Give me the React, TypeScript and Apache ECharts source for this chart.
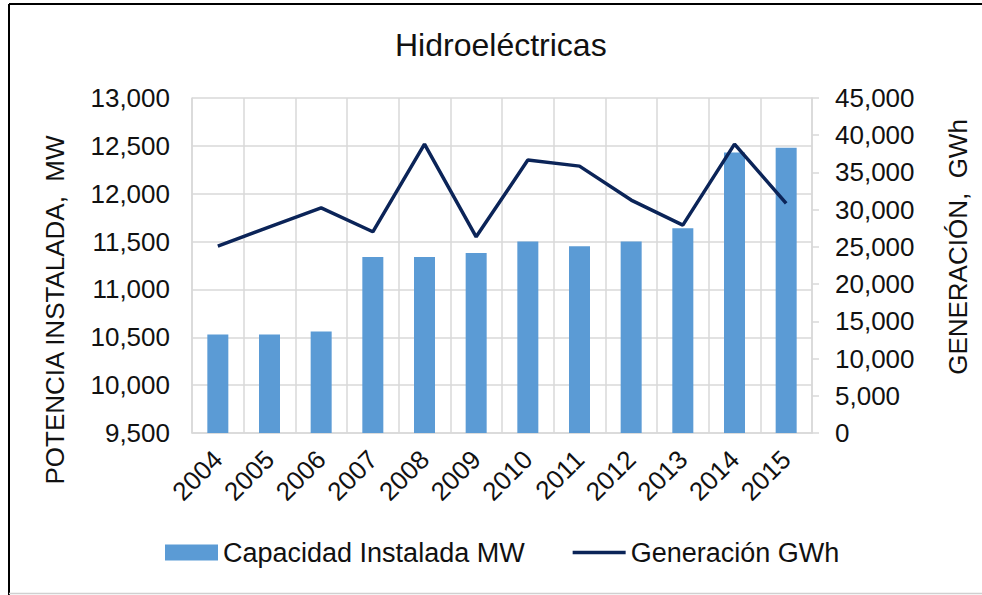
import React, { useEffect, useRef } from "react";
import * as echarts from "echarts";

const years = ["2004", "2005", "2006", "2007", "2008", "2009", "2010", "2011", "2012", "2013", "2014", "2015"];
const capacidadMW = [10530, 10530, 10560, 11340, 11340, 11380, 11500, 11450, 11500, 11640, 12430, 12480];
const generacionGWh = [25100, 27700, 30250, 27030, 38810, 26350, 36660, 35850, 31290, 27920, 38810, 30840];

const titleText = "Hidroeléctricas";
const leftAxisName = "POTENCIA INSTALADA,  MW";
const rightAxisName = "GENERACIÓN,  GWh";
const barName = "Capacidad Instalada MW";
const lineName = "Generación GWh";

const FONT = "'Liberation Sans', Arial, sans-serif";
const GRID = "#d9d9d9";
const TXT = "#111111";
const LINE = "#0b2458";

const fmt = (v: number) => v.toLocaleString("en-US");

export default function App() {
  const ref = useRef<HTMLDivElement>(null);

  useEffect(() => {
    if (!ref.current) return;
    const chart = echarts.init(ref.current, undefined, { renderer: "svg" });
    chart.setOption({
      animation: false,
      backgroundColor: "#ffffff",
      textStyle: { fontFamily: FONT, color: TXT },
      title: {
        text: titleText,
        left: 395,
        top: 29,
        padding: 0,
        textStyle: { fontFamily: FONT, fontSize: 32, fontWeight: "normal", color: TXT },
      },
      grid: { left: 192, right: 170, top: 98, bottom: 162 },
      legend: {
        left: 165,
        top: 539,
        padding: 0,
        itemGap: 48,
        itemWidth: 53,
        itemHeight: 16,
        textStyle: { fontFamily: FONT, fontSize: 27, color: TXT },
        data: [
          { name: barName, icon: "rect" },
          { name: lineName, icon: "path://M0,0H53V3.5H0Z", itemStyle: { color: LINE } },
        ],
      },
      xAxis: {
        type: "category",
        data: years,
        boundaryGap: true,
        axisLine: { show: true, lineStyle: { color: GRID, width: 1.5 } },
        axisTick: { show: false },
        splitLine: { show: true, lineStyle: { color: GRID, width: 1.5 } },
        axisLabel: {
          interval: 0,
          rotate: 45,
          margin: 22,
          fontFamily: FONT,
          fontSize: 26,
          color: TXT,
        },
      },
      yAxis: [
        {
          type: "value",
          min: 9500,
          max: 13000,
          interval: 500,
          position: "left",
          axisLine: { show: true, lineStyle: { color: GRID, width: 1.5 } },
          axisTick: { show: false },
          splitLine: { show: true, lineStyle: { color: GRID, width: 1.5 } },
          axisLabel: { margin: 22, fontFamily: FONT, fontSize: 26, color: TXT, formatter: fmt },
        },
        {
          type: "value",
          min: 0,
          max: 45000,
          interval: 5000,
          position: "right",
          axisLine: { show: true, lineStyle: { color: GRID, width: 1.5 } },
          axisTick: { show: true, length: 7, lineStyle: { color: GRID, width: 1.5 } },
          splitLine: { show: false },
          axisLabel: { margin: 23, fontFamily: FONT, fontSize: 26, color: TXT, formatter: fmt },
        },
      ],
      series: [
        {
          name: barName,
          type: "bar",
          yAxisIndex: 0,
          data: capacidadMW,
          barWidth: 21,
          itemStyle: { color: "#5b9bd5" },
        },
        {
          name: lineName,
          type: "line",
          yAxisIndex: 1,
          data: generacionGWh,
          symbol: "none",
          lineStyle: { color: LINE, width: 3.5 },
          itemStyle: { color: LINE },
        },
      ],
      graphic: [
        {
          type: "text",
          x: 55,
          y: 310,
          rotation: Math.PI / 2,
          style: {
            text: leftAxisName,
            font: `26px ${FONT}`,
            fill: TXT,
            align: "center",
            verticalAlign: "middle",
          },
        },
        {
          type: "text",
          x: 958,
          y: 247,
          rotation: Math.PI / 2,
          style: {
            text: rightAxisName,
            font: `26px ${FONT}`,
            fill: TXT,
            align: "center",
            verticalAlign: "middle",
          },
        },
        {
          type: "line",
          shape: { x1: 9, y1: 4, x2: 982, y2: 4 },
          style: { stroke: "#000000", lineWidth: 2 },
        },
        {
          type: "line",
          shape: { x1: 9, y1: 4, x2: 9, y2: 595 },
          style: { stroke: "#000000", lineWidth: 2 },
        },
        {
          type: "line",
          shape: { x1: 9, y1: 593.5, x2: 982, y2: 593.5 },
          style: { stroke: "#d0d0d0", lineWidth: 1.5 },
        },
      ],
    });
    return () => chart.dispose();
  }, []);

  return (
    <div
      ref={ref}
      style={{ position: "fixed", left: 0, top: 0, width: 982, height: 595, background: "#fff" }}
    />
  );
}
